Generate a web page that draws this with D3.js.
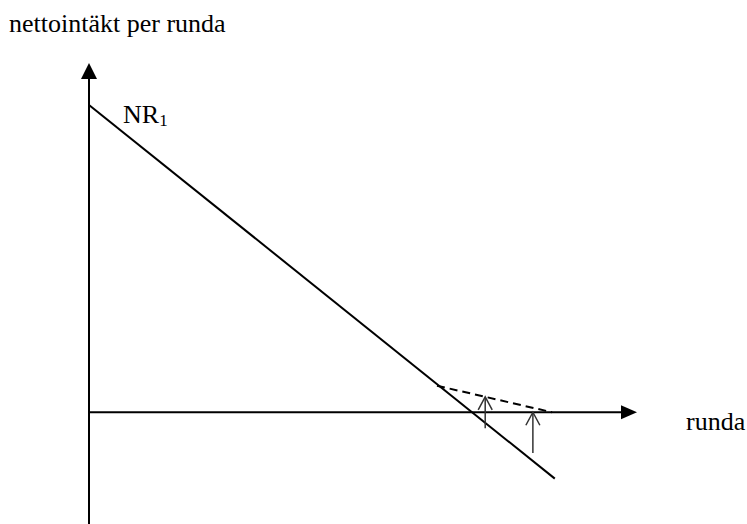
<!DOCTYPE html>
<html>
<head>
<meta charset="utf-8">
<script src="https://cdn.jsdelivr.net/npm/d3@7"></script>
<style>
  body { margin: 0; background: #fff; }
  text { font-family: "Liberation Serif", "Times New Roman", serif; fill: #000; }
</style>
</head>
<body>
<div id="chart"></div>
<script>
// axis extents (data units)
const xDomain = [0, 100];
const yDomain = [-32, 100];

// NR1 line, dashed shifted line, upward arrows
const nr1 = [{ x: 0, y: 88 }, { x: 85, y: -19 }];
const shifted = [{ x: 63.5, y: 7.6 }, { x: 84.5, y: 0 }];
const arrows = [
  { x: 72.3, from: -4.6, to: 4.4 },
  { x: 81.0, from: -11.7, to: 0 }
];

const labels = { y: "nettointäkt per runda", x: "runda", line: "NR", sub: "1" };

const width = 747, height = 524;

const svg = d3.select("#chart").append("svg")
  .attr("width", width)
  .attr("height", height);

const x = d3.scaleLinear().domain(xDomain).range([89, 637]);
const y = d3.scaleLinear().domain(yDomain).range([524, 63]);

const line = d3.line().x(d => x(d.x)).y(d => y(d.y));

// y axis
svg.append("line")
  .attr("x1", x(0)).attr("x2", x(0))
  .attr("y1", y(yDomain[0])).attr("y2", y(yDomain[1]) + 10)
  .attr("stroke", "#000").attr("stroke-width", 2);
svg.append("path")
  .attr("d", `M${x(0)},${y(yDomain[1])} L${x(0) - 8},${y(yDomain[1]) + 16} L${x(0) + 8},${y(yDomain[1]) + 16} Z`)
  .attr("fill", "#000");

// x axis
svg.append("line")
  .attr("x1", x(0)).attr("x2", x(xDomain[1]) - 10)
  .attr("y1", y(0)).attr("y2", y(0))
  .attr("stroke", "#000").attr("stroke-width", 2);
svg.append("path")
  .attr("d", `M${x(xDomain[1])},${y(0)} L${x(xDomain[1]) - 16},${y(0) - 7} L${x(xDomain[1]) - 16},${y(0) + 7} Z`)
  .attr("fill", "#000");

// NR1 line
svg.append("path")
  .attr("d", line(nr1))
  .attr("fill", "none")
  .attr("stroke", "#000")
  .attr("stroke-width", 2);

// dashed line
svg.append("path")
  .attr("d", line(shifted))
  .attr("fill", "none")
  .attr("stroke", "#000")
  .attr("stroke-width", 2)
  .attr("stroke-dasharray", "8,5");

// upward arrows
const ag = svg.append("g")
  .attr("stroke", "#333")
  .attr("stroke-width", 1.5)
  .attr("fill", "none");
arrows.forEach(a => {
  ag.append("line")
    .attr("x1", x(a.x)).attr("x2", x(a.x))
    .attr("y1", y(a.from)).attr("y2", y(a.to));
  ag.append("path")
    .attr("d", `M${x(a.x) - 7},${y(a.to) + 13} L${x(a.x)},${y(a.to)} L${x(a.x) + 7},${y(a.to) + 13}`);
});

// labels
svg.append("text")
  .attr("x", 9).attr("y", 32)
  .attr("font-size", 26)
  .text(labels.y);

svg.append("text")
  .attr("x", 686).attr("y", 430)
  .attr("font-size", 26)
  .text(labels.x);

const nr = svg.append("text")
  .attr("x", 123).attr("y", 123)
  .attr("font-size", 26);
nr.append("tspan").text(labels.line);
nr.append("tspan").attr("font-size", 17).attr("dy", 3).text(labels.sub);
</script>
</body>
</html>
